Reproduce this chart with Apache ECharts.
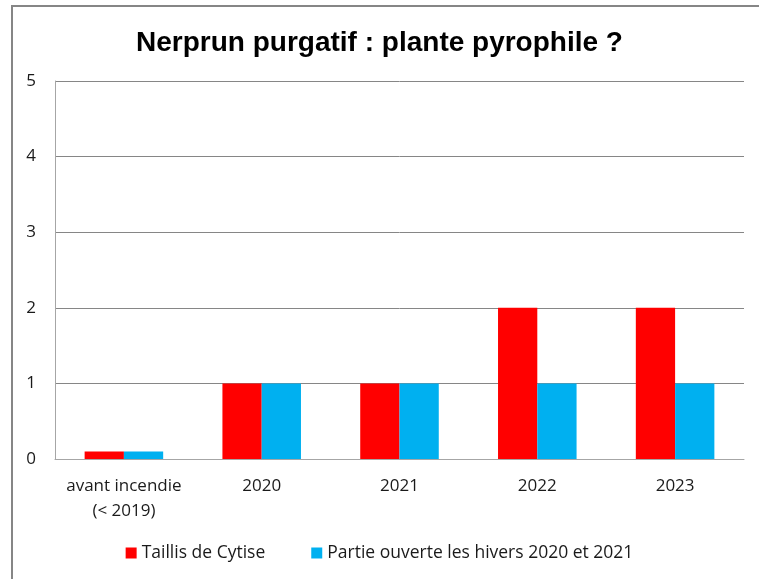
<!DOCTYPE html>
<html>
<head>
<meta charset="utf-8">
<script src="https://cdn.jsdelivr.net/npm/echarts@6/dist/echarts.min.js"></script>
<style>
  html, body { margin: 0; padding: 0; background: #fff; }
  #main { width: 759px; height: 579px; }
</style>
</head>
<body>
<div id="main"></div>
<script>
// data
const categories = ['avant incendie\n(< 2019)', '2020', '2021', '2022', '2023'];
const taillis = [0.1, 1, 1, 2, 2];
const partieOuverte = [0.1, 1, 1, 1, 1];
const seriesNames = ['Taillis de Cytise', 'Partie ouverte les hivers 2020 et 2021'];

const FONT = '"Open Sans", "Liberation Sans", sans-serif';

const chart = echarts.init(document.getElementById('main'));
chart.setOption({
  animation: false,
  backgroundColor: '#fff',
  graphic: [{
    type: 'rect',
    shape: { x: 12, y: 6, width: 800, height: 600 },
    style: { fill: 'none', stroke: '#868686', lineWidth: 2 },
    silent: true
  }],
  title: {
    text: 'Nerprun purgatif : plante pyrophile ?',
    left: 'center',
    top: 24,
    textStyle: { fontFamily: '"Liberation Sans", Arial, sans-serif', fontSize: 28, fontWeight: 'bold', color: '#000' }
  },
  legend: {
    bottom: 12,
    left: 'center',
    itemWidth: 11,
    itemHeight: 11,
    itemGap: 46,
    icon: 'rect',
    textStyle: { fontFamily: FONT, fontSize: 17.5, color: '#1a1a1a' },
    data: seriesNames
  },
  grid: { left: 55, right: 15, top: 81, bottom: 120 },
  xAxis: {
    type: 'category',
    data: categories,
    axisTick: { show: false },
    axisLine: { lineStyle: { color: '#a6a6a6', width: 1 } },
    axisLabel: { interval: 0, fontFamily: FONT, fontSize: 17, color: '#1a1a1a', margin: 15, lineHeight: 25 }
  },
  yAxis: {
    type: 'value',
    min: 0,
    max: 5,
    interval: 1,
    axisLine: { show: true, lineStyle: { color: '#a6a6a6' } },
    axisTick: { show: false },
    splitLine: { lineStyle: { color: '#868686', width: 1 } },
    axisLabel: { fontFamily: FONT, fontSize: 17, color: '#1a1a1a', margin: 19 }
  },
  series: [
    {
      name: seriesNames[0],
      type: 'bar',
      data: taillis,
      barGap: '0%',
      barCategoryGap: '43%',
      itemStyle: { color: '#ff0000' }
    },
    {
      name: seriesNames[1],
      type: 'bar',
      data: partieOuverte,
      itemStyle: { color: '#00b0f0' }
    }
  ]
});
</script>
</body>
</html>
